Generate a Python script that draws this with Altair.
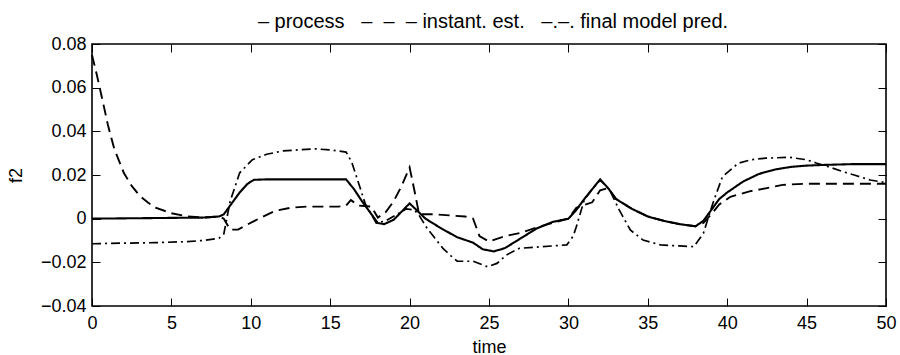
import altair as alt
import pandas as pd

# ---- series data (time, f2) ----
process_t = [0, 7, 8, 8.3, 8.8, 9.3, 9.8, 10.2, 11, 16, 16.5, 17, 17.5, 18, 18.4,
             19, 19.6, 20, 20.5, 21, 22, 23, 24, 24.6, 25.3, 26, 27, 28, 29, 30,
             30.5, 31, 31.5, 32, 32.5, 33, 34, 35, 36, 37, 38, 38.5, 39, 39.5, 40,
             41, 42, 43, 44, 45, 46, 47, 48, 49, 50]
process_v = [0, 0.0005, 0.001, 0.002, 0.007, 0.012, 0.016, 0.0178, 0.018, 0.018,
             0.0135, 0.008, 0.003, -0.002, -0.0025, -0.0005, 0.004, 0.007, 0.0035,
             0.0, -0.0045, -0.0085, -0.011, -0.014, -0.015, -0.0135, -0.009,
             -0.0045, -0.0015, 0.0, 0.004, 0.009, 0.0135, 0.018, 0.014, 0.009,
             0.0045, 0.001, -0.001, -0.0025, -0.0035, -0.001, 0.004, 0.009, 0.012,
             0.017, 0.0205, 0.0225, 0.0237, 0.0243, 0.0246, 0.0248, 0.025, 0.025,
             0.025]

instant_t = [0, 0.3, 0.7, 1.0, 1.4, 2.0, 2.5, 3.0, 3.5, 4.0, 5.0, 6.0, 7.0, 8.0,
             8.3, 8.7, 9.2, 9.7, 10.5, 11.5, 12.5, 13.5, 15.5, 16.0, 16.3, 16.8,
             17.6, 18.0, 18.5, 19.0, 19.5, 20.0, 20.3, 20.6, 21.5, 22.5, 23.5,
             24.0, 24.4, 25.0, 26.0, 27.0, 28.0, 29.0, 30.0, 30.5, 31.5, 32.0,
             32.5, 33.0, 34.0, 35.0, 36.0, 37.0, 38.0, 38.5, 39.0, 39.5, 40.2,
             41.4, 42.5, 43.5, 45.0, 47.0, 50.0]
instant_v = [0.075, 0.066, 0.053, 0.043, 0.032, 0.021, 0.015, 0.0105, 0.0075,
             0.005, 0.0025, 0.001, 0.0005, 0.001, 0.0, -0.005, -0.005, -0.003,
             0.0, 0.0035, 0.005, 0.0055, 0.0055, 0.006, 0.0085, 0.006, 0.0055,
             0.0005, 0.003, 0.008, 0.015, 0.0235, 0.013, 0.002, 0.002, 0.0015,
             0.001, 0.0, -0.008, -0.0105, -0.008, -0.0065, -0.004, -0.002, 0.0,
             0.005, 0.0075, 0.013, 0.014, 0.009, 0.0045, 0.001, -0.001, -0.0025,
             -0.0035, -0.002, 0.002, 0.0065, 0.010, 0.0125, 0.014, 0.0155, 0.016,
             0.016, 0.016]

final_t = [0, 2, 4, 6, 7, 8, 8.3, 8.7, 9.3, 10.1, 11, 12, 13, 14, 15, 16, 16.35,
           16.8, 17.2, 17.9, 18.5, 19.2, 19.8, 20.3, 20.6, 21.1, 21.6, 22.1, 22.6,
           23.0, 24.0, 24.9, 25.5, 26.1, 26.9, 28, 29, 29.9, 30.3, 30.5, 31.0,
           31.5, 32.0, 32.6, 33.2, 33.9, 34.7, 35.8, 37, 37.9, 38.5, 39.1, 39.7,
           40.7, 41.5, 42.4, 43.9, 45.0, 45.6, 46.5, 47.3, 48, 49, 50]
final_v = [-0.0115, -0.0112, -0.011, -0.0105, -0.01, -0.009, -0.007, 0.008, 0.021,
           0.027, 0.0295, 0.031, 0.0315, 0.032, 0.0315, 0.0305, 0.026, 0.016,
           0.007, -0.002, -0.001, 0.002, 0.0045, 0.004, 0.0015, -0.0044, -0.009,
           -0.0136, -0.017, -0.0195, -0.0195, -0.022, -0.0205, -0.0166, -0.0136,
           -0.013, -0.0125, -0.012, -0.008, -0.0037, 0.0086, 0.0135, 0.0177,
           0.0131, 0.004, -0.0052, -0.0098, -0.012, -0.0125, -0.0128, -0.0067,
           0.0071, 0.0192, 0.0254, 0.027, 0.0277, 0.0281, 0.027, 0.0255, 0.0235,
           0.0215, 0.02, 0.0177, 0.0165]

series_names = ["process", "instant. est.", "final model pred."]
x_ticks = [0, 5, 10, 15, 20, 25, 30, 35, 40, 45, 50]
y_ticks = [-0.04, -0.02, 0, 0.02, 0.04, 0.06, 0.08]

df = pd.concat([
    pd.DataFrame({"time": process_t, "f2": process_v, "series": series_names[0]}),
    pd.DataFrame({"time": instant_t, "f2": instant_v, "series": series_names[1]}),
    pd.DataFrame({"time": final_t, "f2": final_v, "series": series_names[2]}),
], ignore_index=True)

FONT = "Liberation Sans"
FS = 18
NB = "\u00a0"
DASH = "\u2013"
legend_text = (DASH + " process" + NB * 3
               + DASH + NB * 2 + DASH + NB * 2 + DASH + " instant. est." + NB * 3
               + DASH + "." + DASH + ". final model pred.")

x_scale = alt.Scale(domain=[0, 50], nice=False, zero=False)
y_scale = alt.Scale(domain=[-0.04, 0.08], nice=False, zero=False)

tick_style = dict(tickSize=8, offset=-8, domain=False, grid=False,
                  tickColor="black", tickWidth=1)

bottom_axis = alt.Axis(orient="bottom", values=x_ticks, labelFont=FONT,
                       labelFontSize=FS, labelColor="black", labelPadding=8,
                       labelOverlap=False, labelFlush=False, title="time",
                       titleFont=FONT, titleFontSize=FS, titleFontWeight="normal",
                       titleColor="black", titlePadding=6, **tick_style)
left_axis = alt.Axis(orient="left", values=y_ticks, labelFont=FONT,
                     labelFontSize=FS, labelColor="black", labelPadding=6,
                     labelOverlap=False, labelFlush=False,
                     labelExpr="datum.value == 0 ? '0' : format(datum.value, '.2f')",
                     title="f2", titleFont=FONT, titleFontSize=FS,
                     titleFontWeight="normal", titleColor="black", titlePadding=15,
                     **tick_style)
top_axis = alt.Axis(orient="top", values=x_ticks, labels=False, title=None, **tick_style)
right_axis = alt.Axis(orient="right", values=y_ticks, labels=False, title=None, **tick_style)

lines = alt.Chart(df).mark_line(color="black").encode(
    x=alt.X("time:Q", scale=x_scale, axis=bottom_axis),
    y=alt.Y("f2:Q", scale=y_scale, axis=left_axis),
    detail="series:N",
    strokeDash=alt.StrokeDash("series:N", legend=None,
                              scale=alt.Scale(domain=series_names,
                                              range=[[1, 0], [11, 6], [9, 4, 2, 4]])),
    strokeWidth=alt.StrokeWidth("series:N", legend=None,
                                scale=alt.Scale(domain=series_names,
                                                range=[2.1, 1.7, 1.4])),
)

# invisible copy that carries the top and right tick rows of the box
box = alt.Chart(df).mark_line(opacity=0).encode(
    x=alt.X("time:Q", scale=x_scale, axis=top_axis),
    y=alt.Y("f2:Q", scale=y_scale, axis=right_axis),
    detail="series:N",
)

chart = alt.layer(lines, box).resolve_axis(
    x="independent", y="independent"
).properties(
    width=794,
    height=262,
    autosize=alt.AutoSizeParams(type="none"),
    padding={"left": 92, "top": 44, "right": 14, "bottom": 49},
    title=alt.TitleParams(text=legend_text, font=FONT, fontSize=20,
                          fontWeight="normal", color="black", anchor="middle",
                          dx=4, offset=3),
    background="white",
).configure_view(stroke="black", strokeWidth=1.6)

chart.save("out.html", embed_options={"renderer": "svg", "actions": False})
